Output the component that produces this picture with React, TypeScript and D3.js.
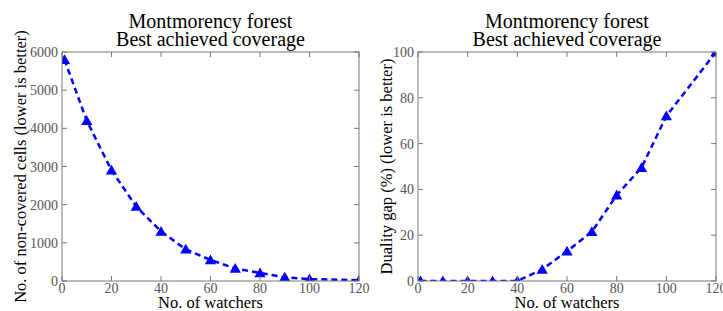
import React from 'react'
import * as d3 from 'd3'

const watchers = [1, 10, 20, 30, 40, 50, 60, 70, 80, 90, 100, 120]
const uncovered = [5800, 4200, 2900, 1950, 1300, 830, 550, 330, 210, 100, 50, 20]
const dualityGap = [0, 0, 0, 0, 0, 5, 13, 21.5, 37.5, 49.5, 72, 100]
const xTicks = [0, 20, 40, 60, 80, 100, 120]
const leftTicks = [0, 1000, 2000, 3000, 4000, 5000, 6000]
const rightTicks = [0, 20, 40, 60, 80, 100]

const titleLines = ['Montmorency forest', 'Best achieved coverage']
const xLabel = 'No. of watchers'

const FONT = '"Liberation Serif", "Times New Roman", serif'
const BLUE = '#0000ff'
const SPINE = '#777'
const TICKTEXT = '#555'

type PanelProps = {
  id: string
  left: number
  right: number
  values: number[]
  yMax: number
  yTicks: number[]
  yLabel: string
  yLabelX: number
}

function Panel({ id, left, right, values, yMax, yTicks, yLabel, yLabelX }: PanelProps) {
  const top = 52
  const bottom = 281
  const x = d3.scaleLinear().domain([0, 120]).range([left, right])
  const y = d3.scaleLinear().domain([0, yMax]).range([bottom, top])
  const pts = watchers.map((w, i) => [x(w), y(values[i])] as [number, number])
  const line = d3.line()(pts) || ''
  const tri = d3.symbol().type(d3.symbolTriangle).size(55)() || ''
  const cx = (left + right) / 2
  const tl = 5

  return (
    <g>
      <defs>
        <clipPath id={id}>
          <rect x={left} y={top} width={right - left} height={bottom - top} />
        </clipPath>
      </defs>
      {titleLines.map((t, i) => (
        <text key={i} x={cx} y={28 + i * 18} textAnchor="middle" fontSize={20} fontFamily={FONT} fill="#000">
          {t}
        </text>
      ))}
      <g clipPath={`url(#${id})`}>
        <path d={line} fill="none" stroke={BLUE} strokeWidth={2.5} strokeDasharray="6,4" />
        {pts.map((p, i) => (
          <path key={i} d={tri} transform={`translate(${p[0]},${p[1] + 1})`} fill={BLUE} />
        ))}
      </g>
      <rect x={left} y={top} width={right - left} height={bottom - top} fill="none" stroke={SPINE} strokeWidth={1} />
      {xTicks.map(t => (
        <g key={t}>
          <line x1={x(t)} x2={x(t)} y1={bottom} y2={bottom - tl} stroke={SPINE} />
          <line x1={x(t)} x2={x(t)} y1={top} y2={top + tl} stroke={SPINE} />
          <text x={x(t)} y={293} textAnchor="middle" fontSize={14} fontFamily={FONT} fill={TICKTEXT}>
            {t}
          </text>
        </g>
      ))}
      {yTicks.map(t => (
        <g key={t}>
          <line x1={left} x2={left + tl} y1={y(t)} y2={y(t)} stroke={SPINE} />
          <line x1={right} x2={right - tl} y1={y(t)} y2={y(t)} stroke={SPINE} />
          <text x={left - 4} y={y(t) + 5} textAnchor="end" fontSize={14} fontFamily={FONT} fill={TICKTEXT}>
            {t}
          </text>
        </g>
      ))}
      <text x={cx} y={308} textAnchor="middle" fontSize={16.5} fontFamily={FONT} fill="#000">
        {xLabel}
      </text>
      <text
        transform={`translate(${yLabelX},${(top + bottom) / 2}) rotate(-90)`}
        textAnchor="middle"
        fontSize={16.5}
        fontFamily={FONT}
        fill="#000"
      >
        {yLabel}
      </text>
    </g>
  )
}

export default function App() {
  return (
    <svg width={723} height={311} style={{ position: 'absolute', left: 0, top: 0, background: '#fff' }}>
      <rect width={723} height={311} fill="#fff" />
      <Panel
        id="clipL"
        left={62}
        right={359}
        values={uncovered}
        yMax={6000}
        yTicks={leftTicks}
        yLabel="No. of non-covered cells (lower is better)"
        yLabelX={26}
      />
      <Panel
        id="clipR"
        left={418}
        right={716}
        values={dualityGap}
        yMax={100}
        yTicks={rightTicks}
        yLabel="Duality gap (%) (lower is better)"
        yLabelX={392}
      />
    </svg>
  )
}
